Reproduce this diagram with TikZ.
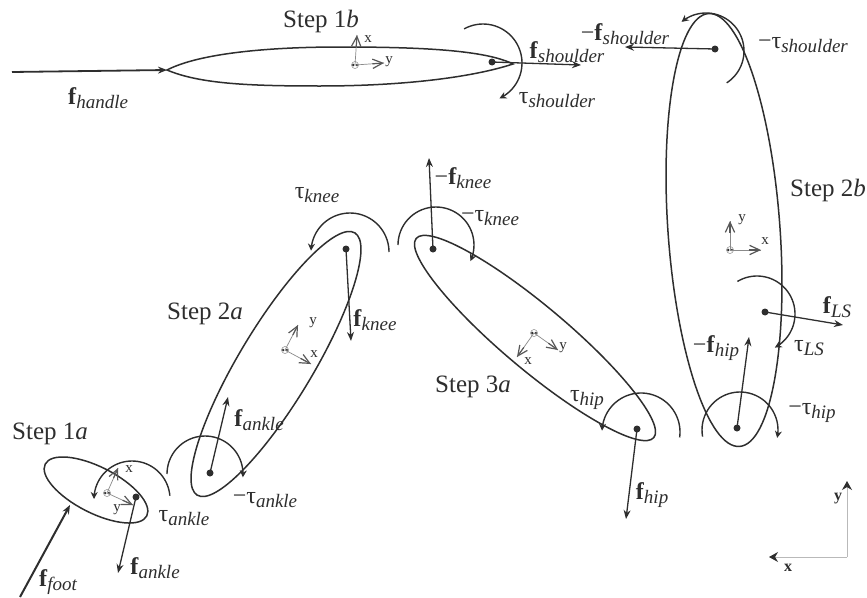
\documentclass[tikz,border=0pt]{standalone}
\usepackage{fontspec}
\setmainfont{Liberation Serif}
\usetikzlibrary{arrows.meta,calc}
\definecolor{ink}{HTML}{2E2E2E}
\definecolor{frame}{HTML}{8A8A8A}
\newcommand{\lb}[2]{{\fontsize{24}{26}\selectfont #1}\raisebox{-4pt}{\fontsize{19}{20}\selectfont\itshape #2}}
\newcommand{\fb}[1]{\lb{\textbf{f}}{#1}}
\newcommand{\mfb}[1]{\lb{−\textbf{f}}{#1}}
\newcommand{\tb}[1]{\lb{τ}{#1}}
\newcommand{\mtb}[1]{\lb{−τ}{#1}}
\tikzset{
  body/.style={draw=ink,line width=1.5pt},
  force/.style={draw=ink,line width=1.3pt,-{Stealth[length=9pt,width=7pt]}},
  torque/.style={draw=ink,line width=1.4pt,-{Stealth[length=7pt,width=7pt]},smooth},
  pin/.style={circle,fill=ink,inner sep=0pt,minimum size=7pt},
  axisline/.style={draw=frame,line width=.7pt},
  axishead/.style={draw=ink!80,line width=1.2pt},
  lab/.style={text=ink,inner sep=0pt,font=\fontsize{25}{27}\selectfont},
  small/.style={text=ink,inner sep=0pt,font=\fontsize{15}{16}\selectfont},
  origin/.style={circle,draw=frame,line width=.5pt,inner sep=0pt,minimum size=7pt}
}
% centre x, y, radius, start, end
\newcommand{\tq}[5]{\draw[torque] plot[domain=#4:#5,samples=40] ({#1+#3*cos(\x)},{#2-#3*sin(\x)});}
% name, ox, oy, ax, ay, bx, by
\newcommand{\fr}[7]{%
  \node[origin] (#1o) at (#2,#3) {};
  \fill[ink] (#2-1.8,#3) circle (1.3pt) (#2+1.8,#3) circle (1.3pt);
  \coordinate (#1a) at (#4,#5);
  \coordinate (#1b) at (#6,#7);
  \draw[axisline] (#1o.center) -- (#1a);
  \draw[axisline] (#1o.center) -- (#1b);
  \draw[axishead,-{Straight Barb[length=10pt,width=13pt,angle'=50]}] ($(#1o.center)!0.6!(#1a)$) -- (#1a);
  \draw[axishead,-{Straight Barb[length=10pt,width=13pt,angle'=50]}] ($(#1o.center)!0.6!(#1b)$) -- (#1b);
}
\begin{document}
\begin{tikzpicture}[x=1pt,y=-1pt]
\useasboundingbox[fill=white] (0,0) rectangle (867,597);
% bodies
\draw[body] (167,70) .. controls (200,53) and (270,47) .. (340,47) .. controls (420,47) and (485,50) .. (513,64) .. controls (470,78) and (400,86) .. (320,86) .. controls (250,86) and (200,84) .. (167,70) -- cycle;
\draw[body,rotate around={-27:(96,490)}] (96,490) ellipse (57 and 23);
\draw[body,rotate around={59:(276,364)}] (276,364) ellipse (153 and 37);
\draw[body,rotate around={-40:(535,338)}] (535,338) ellipse (155 and 32);
\draw[body,rotate around={-85.9:(724,230)}] (724,230) ellipse (217 and 56);
% pins
\node[pin] (pa) at (136,497) {};
\node[pin] (pb) at (210,473) {};
\node[pin] (pc) at (346,249) {};
\node[pin] (pd) at (433,249) {};
\node[pin] (pe) at (637,429) {};
\node[pin] (pf) at (737,428) {};
\node[pin] (pg) at (765,312) {};
\node[pin] (ph) at (715,49) {};
\node[pin] (pi) at (492,62) {};
% force ends
\coordinate (ea) at (118,573);
\coordinate (eb) at (228,397);
\coordinate (ec) at (351,341);
\coordinate (ed) at (429,158);
\coordinate (ee) at (626,519);
\coordinate (ef) at (749,337);
\coordinate (eg) at (843,325);
\coordinate (eh) at (625,47);
\coordinate (ei) at (581,65);
\coordinate (ha) at (12,72);
\coordinate (hb) at (167,70);
\coordinate (fa) at (20,597);
\coordinate (fb) at (70,505);
\draw[force] (pa.center) -- (ea);
\draw[force] (pb.center) -- (eb);
\draw[force] (pc.center) -- (ec);
\draw[force] (pd.center) -- (ed);
\draw[force] (pe.center) -- (ee);
\draw[force] (pf.center) -- (ef);
\draw[force] (pg.center) -- (eg);
\draw[force] (ph.center) -- (eh);
\draw[force] (pi.center) -- (ei);
\draw[force,line width=1.8pt] (ha) -- (hb);
\draw[force,line width=2pt] (fa) -- (fb);
% torques
\tq{132}{499}{38}{5}{180}
\tq{205}{474}{38}{180}{-5}
\tq{350}{252}{39}{0}{178}
\tq{436}{245}{38}{180}{-25}
\tq{641}{432}{39}{-8}{178}
\tq{740}{430}{38}{190}{-12}
\tq{757}{314}{38}{121}{-62}
\tq{483}{63}{39}{119}{-65}
\tq{706}{51}{38}{-57}{130}
% local frames
\fr{la}{107}{493}{118}{468}{133}{505}
\fr{lb}{355}{65}{357}{35}{384}{63}
\fr{lc}{285}{350}{298}{325}{311}{364}
\fr{ld}{534}{333}{517}{357}{558}{350}
\fr{le}{730}{250}{730}{221}{761}{250}
% global frame
\coordinate (go) at (847,557);
\coordinate (gy) at (847,481);
\coordinate (gx) at (769,557);
\draw[draw=frame!60,line width=1pt,-{Stealth[length=9pt,width=10pt,color=ink]}] (go) -- (gy);
\draw[draw=frame!60,line width=1pt,-{Stealth[length=9pt,width=10pt,color=ink]}] (go) -- (gx);
% text
\node[lab] (s1a) at (50,434) {Step 1\textit{a}};
\node[lab] (s1b) at (321,21) {Step 1\textit{b}};
\node[lab] (s2a) at (205,314) {Step 2\textit{a}};
\node[lab] (s2b) at (828,190) {Step 2\textit{b}};
\node[lab] (s3a) at (473,387) {Step 3\textit{a}};
\node[lab] (t1) at (98,98) {\fb{handle}};
\node[lab] (t2) at (567,52) {\fb{shoulder}};
\node[lab] (t3) at (557,100) {\tb{shoulder}};
\node[lab] (t4) at (625,34) {\mfb{shoulder}};
\node[lab] (t5) at (803,45) {\mtb{shoulder}};
\node[lab] (t6) at (317,195) {\tb{knee}};
\node[lab] (t7) at (463,178) {\mfb{knee}};
\node[lab] (t8) at (490,218) {\mtb{knee}};
\node[lab] (t9) at (375,320) {\fb{knee}};
\node[lab] (t10) at (259,420) {\fb{ankle}};
\node[lab] (t11) at (265,500) {\mtb{ankle}};
\node[lab] (t12) at (184,518) {\tb{ankle}};
\node[lab] (t13) at (155,568) {\fb{ankle}};
\node[lab] (t14) at (58,582) {\fb{foot}};
\node[lab] (t15) at (587,400) {\tb{hip}};
\node[lab] (t16) at (652,495) {\fb{hip}};
\node[lab] (t17) at (716,348) {\mfb{hip}};
\node[lab] (t18) at (809,348) {\tb{LS}};
\node[lab] (t19) at (837,307) {\fb{LS}};
\node[lab] (t20) at (812,413) {\mtb{hip}};
\node[small] (xa) at (129,469) {x};
\node[small] (ya) at (117,510) {y};
\node[small] (xb) at (368,39) {x};
\node[small] (yb) at (389,62) {y};
\node[small] (xc) at (314,354) {x};
\node[small] (yc) at (313,323) {y};
\node[small] (xd) at (528,361) {x};
\node[small] (yd) at (563,348) {y};
\node[small] (xe) at (765,241) {x};
\node[small] (ye) at (742,220) {y};
\node[small,font=\fontsize{16}{17}\selectfont\bfseries] (gxl) at (788,568) {x};
\node[small,font=\fontsize{16}{17}\selectfont\bfseries] (gyl) at (838,499) {y};
\end{tikzpicture}
\end{document}
